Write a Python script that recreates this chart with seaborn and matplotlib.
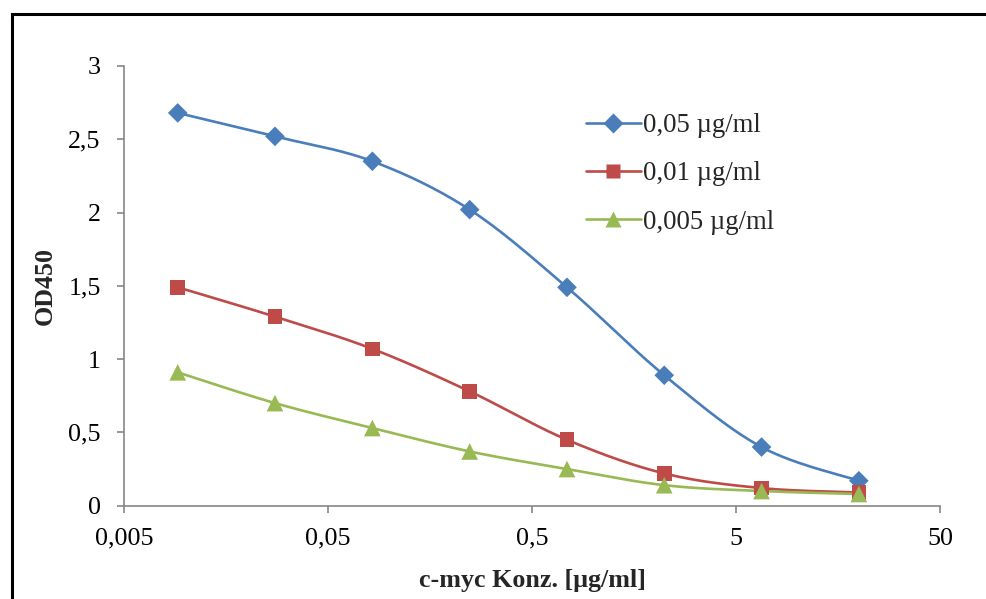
import numpy as np
import pandas as pd
import matplotlib
matplotlib.use("Agg")
import matplotlib.pyplot as plt
import seaborn as sns
from matplotlib.patches import Rectangle
from matplotlib.lines import Line2D

# ---- data ----
conc = [0.00914, 0.0274, 0.0823, 0.247, 0.741, 2.222, 6.667, 20.0]
od_005 = [2.68, 2.52, 2.35, 2.02, 1.49, 0.89, 0.40, 0.17]
od_001 = [1.49, 1.29, 1.07, 0.78, 0.45, 0.22, 0.12, 0.09]
od_0005 = [0.91, 0.70, 0.53, 0.37, 0.25, 0.14, 0.10, 0.08]
series_names = ["0,05 µg/ml", "0,01 µg/ml", "0,005 µg/ml"]
x_ticks = [0.005, 0.05, 0.5, 5, 50]
x_ticklabels = ["0,005", "0,05", "0,5", "5", "50"]
y_ticks = [0, 0.5, 1, 1.5, 2, 2.5, 3]
y_ticklabels = ["0", "0,5", "1", "1,5", "2", "2,5", "3"]

colors = ["#4A7EBB", "#BE4B48", "#98B954"]
markers = ["D", "s", "^"]
msizes = [10, 10.5, 12]

sns.set_theme(style="white")
plt.rcParams["font.family"] = ["Liberation Serif", "DejaVu Serif"]

df = pd.DataFrame({
    "conc": conc * 3,
    "od": od_005 + od_001 + od_0005,
    "series": sum([[n] * len(conc) for n in series_names], []),
})

fig = plt.figure(figsize=(9.86, 5.99), dpi=100)
ax = fig.add_axes([124.3/986, 1-505.7/599, (940-124.3)/986, (505.7-66)/599])

def catmull(xs, ys, n=30):
    lx = np.log10(xs); y = np.asarray(ys, float)
    P = np.column_stack([lx, y])
    P = np.vstack([P[0], P, P[-1]])
    out = []
    for i in range(1, len(P) - 2):
        p0, p1, p2, p3 = P[i-1], P[i], P[i+1], P[i+2]
        c1 = p1 + (p2 - p0) / 6
        c2 = p2 - (p3 - p1) / 6
        t = np.linspace(0, 1, n)[:, None]
        seg = (1-t)**3*p1 + 3*(1-t)**2*t*c1 + 3*(1-t)*t**2*c2 + t**3*p2
        out.append(seg if i == 1 else seg[1:])
    out = np.vstack(out)
    return 10**out[:, 0], out[:, 1]

for name, c, m, ms in zip(series_names, colors, markers, msizes):
    sub = df[df.series == name]
    sx, sy = catmull(sub.conc.values, sub.od.values)
    ax.plot(sx, sy, color=c, lw=1.9, zorder=2)
    sns.scatterplot(data=sub, x="conc", y="od", color=c, marker=m, s=ms**2,
                    edgecolor="none", ax=ax, legend=False, zorder=3)

ax.set_xscale("log")
ax.set_xlim(0.005, 50)
ax.set_ylim(0, 3)
ax.set_xticks(x_ticks)
ax.set_xticklabels(x_ticklabels)
ax.xaxis.set_minor_locator(matplotlib.ticker.NullLocator())
ax.set_yticks(y_ticks)
ax.set_yticklabels(y_ticklabels)
for s in ["top", "right"]:
    ax.spines[s].set_visible(False)
for s in ["left", "bottom"]:
    ax.spines[s].set_color("#868686")
    ax.spines[s].set_linewidth(1.2)
ax.tick_params(axis="both", which="major", direction="out", length=5, width=1.2,
               color="#868686", labelsize=18.7, labelcolor="black",
               left=True, bottom=True)
ax.tick_params(axis="y", pad=12)
ax.tick_params(axis="x", pad=11)
ax.set_xlabel("c-myc Konz. [µg/ml]", fontsize=18.7, fontweight="bold", labelpad=14)
ax.set_ylabel("OD450", fontsize=18.7, fontweight="bold", labelpad=8.5)

handles = [Line2D([0], [0], color=c, lw=1.9, marker=m, markersize=ms, markeredgecolor="none")
           for c, m, ms in zip(colors, markers, msizes)]
fig.legend(handles, series_names, loc="upper left", bbox_to_anchor=(586/986, 1-113/599),
           frameon=False, fontsize=19.3, handlelength=2.05, handletextpad=0.08,
           labelspacing=0.87, borderaxespad=0, borderpad=0)

fig.patches.append(Rectangle((11.5/986, -0.1), 1.2, 1 - 13.5/599 + 0.1,
                             transform=fig.transFigure, fill=False,
                             edgecolor="black", lw=2.2, figure=fig))

fig.savefig("out.png", dpi=100)
